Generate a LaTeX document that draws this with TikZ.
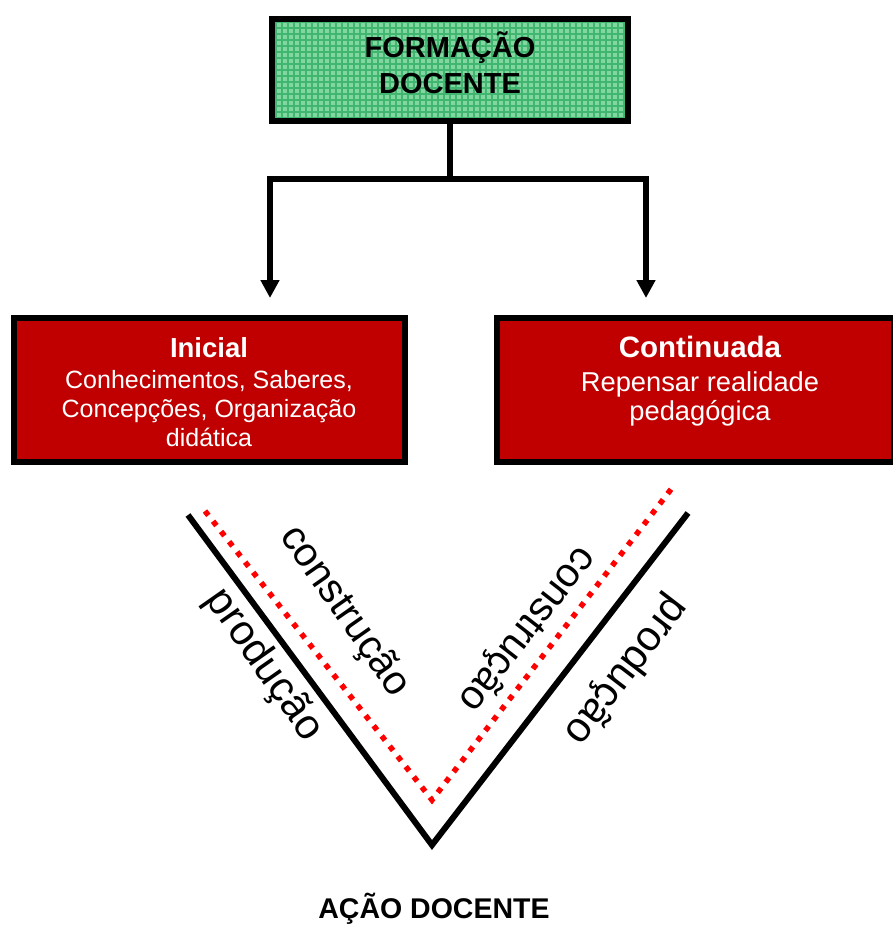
\documentclass[tikz,border=0pt]{standalone}
\usepackage{fontspec}
\setmainfont{Liberation Sans}
\usetikzlibrary{arrows.meta}
\definecolor{boxred}{RGB}{192,0,0}
\definecolor{gfill}{RGB}{130,214,160}
\definecolor{ggrid}{RGB}{64,182,112}
\definecolor{dotred}{RGB}{255,0,0}
\begin{document}
\begin{tikzpicture}[x=1pt,y=-1pt,
  frame/.style={draw=black, line width=6pt, inner sep=0pt, outer sep=0pt},
  greenbox/.style={frame, fill=gfill,
    path picture={\draw[ggrid,line width=1.1pt,step=6pt] (path picture bounding box.south west) grid (path picture bounding box.north east);}},
  redbox/.style={frame, fill=boxred},
  conn/.style={draw=black, line width=5.5pt, line join=miter},
  tip/.style={-{Triangle[length=18pt,width=18pt]}},
  ttl/.style={anchor=base, inner sep=0pt, font=\bfseries\fontsize{29}{36}\selectfont},
  wtitle/.style={anchor=base, inner sep=0pt, text=white, font=\bfseries\fontsize{#1}{#1}\selectfont},
  wtext/.style={anchor=base, inner sep=0pt, text=white, font=\fontsize{#1}{#1}\selectfont},
  vlabel/.style={anchor=mid, inner sep=0pt, font=\fontsize{#1}{#1}\selectfont},
  vline/.style={draw=black, line width=6pt, line join=miter},
  vdots/.style={draw=dotred, line width=5.5pt, dash pattern=on 5.5pt off 7.5pt, line join=miter}
]
\useasboundingbox (0,0) rectangle (893,926);

% top box
\node[greenbox, minimum width=356pt, minimum height=102pt] (fd) at (450,70) {};
\node[ttl] (fd1) at (450,57.5) {FORMAÇÃO};
\node[ttl] (fd2) at (450,93.5) {DOCENTE};

% connectors
\coordinate (j) at (450,179);
\coordinate (al) at (270,298);
\coordinate (ar) at (646,298);
\draw[conn] (fd.south) -- (j);
\draw[conn,tip] (j) -| (al);
\draw[conn,tip] (j) -| (ar);

% red boxes
\node[redbox, minimum width=391pt, minimum height=144pt] (ini) at (209.5,390) {};
\node[wtitle=27.5] (ini1) at (209,357) {Inicial};
\node[wtext=25] (ini2) at (209,388) {Conhecimentos, Saberes,};
\node[wtext=25] (ini3) at (209,417) {Concepções, Organização};
\node[wtext=25] (ini4) at (209,446) {didática};

\node[redbox, minimum width=397pt, minimum height=144pt] (con) at (695.5,390) {};
\node[wtitle=29.5] (con1) at (700,357) {Continuada};
\node[wtext=27.3] (con2) at (700,391) {Repensar realidade};
\node[wtext=27.3] (con3) at (700,420.5) {pedagógica};

% V
\coordinate (bl) at (188,515);
\coordinate (bv) at (432,845);
\coordinate (br) at (688,513);
\coordinate (rl) at (205,511);
\coordinate (rv) at (432,800);
\coordinate (rr) at (672,488);
\draw[vline] (bl) -- (bv) -- (br);
\draw[vdots] (rl) -- (rv) -- (rr);

\node[vlabel=40.5, rotate=-55] (lc) at (338,616) {construção};
\node[vlabel=42, rotate=-55] (lp) at (257,670) {produção};
\node[vlabel=40.5, rotate=-128] (rc) at (520.5,624) {construção};
\node[vlabel=42, rotate=-127.5] (rp) at (619,665) {produção};

\node[ttl, font=\bfseries\fontsize{28.5}{30}\selectfont] (acao) at (434,918) {AÇÃO DOCENTE};
\end{tikzpicture}
\end{document}
